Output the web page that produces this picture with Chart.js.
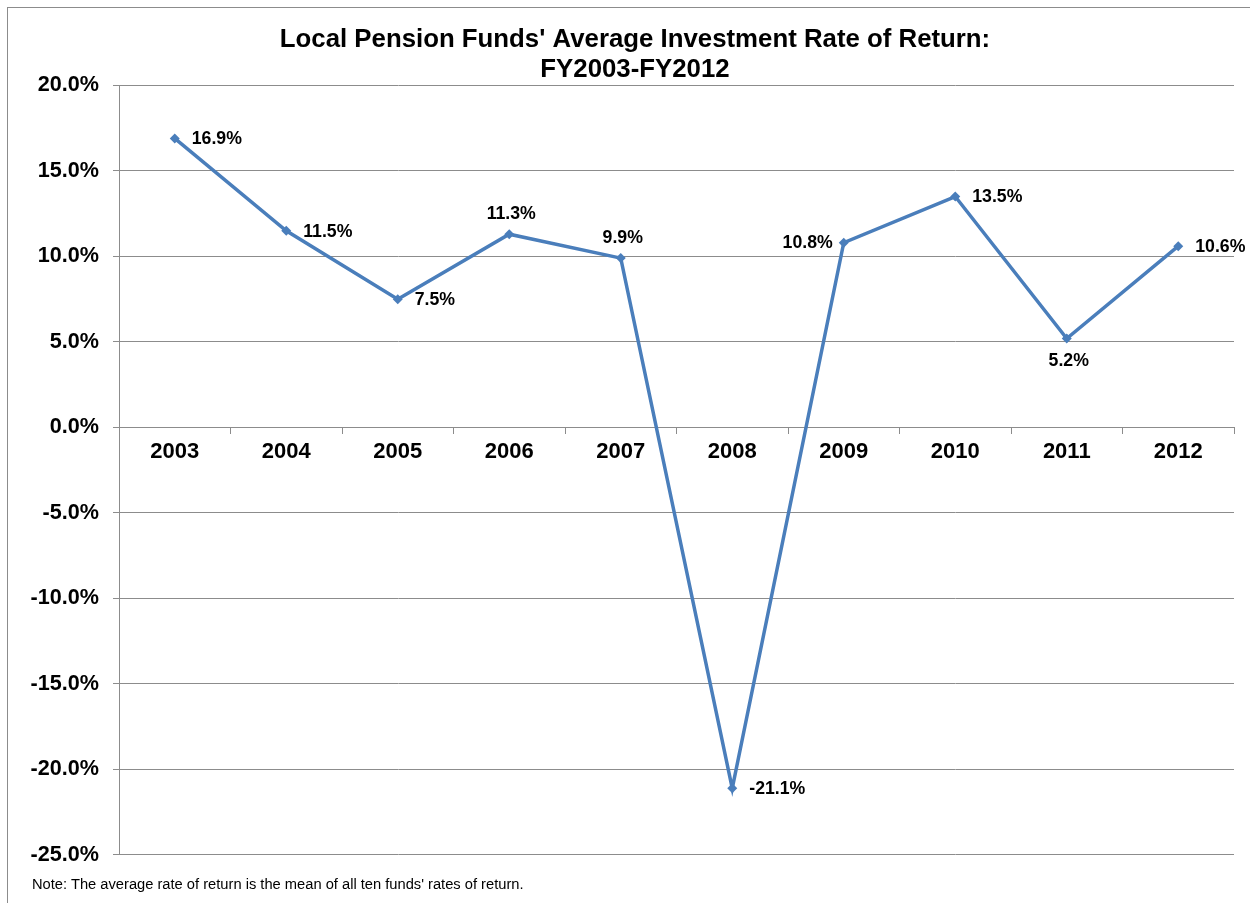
<!DOCTYPE html>
<html>
<head>
<meta charset="utf-8">
<script src="https://cdn.jsdelivr.net/npm/chart.js@4/dist/chart.umd.min.js"></script>
<style>
  body { margin: 0; background: #fff; overflow: hidden; }
  #frame { position: absolute; left: 7px; top: 7px; width: 1300px; height: 950px; border: 1px solid #8c8c8c; }
  #wrap { position: absolute; left: 0; top: 0; width: 1250px; height: 903px; }
  #note { position: absolute; left: 32px; top: 876px; font: 14.7px "Liberation Sans", Arial, sans-serif; color: #000; }
</style>
</head>
<body>
<div id="frame"></div>
<div id="wrap"><canvas id="lineChart" width="1250" height="903"></canvas></div>
<div id="note">Note: The average rate of return is the mean of all ten funds' rates of return.</div>
<script>
// Fiscal years and average returns (%)
const years = ['2003', '2004', '2005', '2006', '2007', '2008', '2009', '2010', '2011', '2012'];
const returns = [16.9, 11.5, 7.5, 11.3, 9.9, -21.1, 10.8, 13.5, 5.2, 10.6];
const yTicks = [-25, -20, -15, -10, -5, 0, 5, 10, 15, 20];

// where each value label sits relative to its point
const labelSide = ['right', 'right', 'right', 'above', 'above', 'right', 'left', 'right', 'below', 'right'];

const FONT = '"Liberation Sans", Arial, sans-serif';
const GRID = '#8c8c8c';

const valueLabels = {
    id: 'valueLabels',
    afterDatasetsDraw(chart) {
        const ctx = chart.ctx;
        const meta = chart.getDatasetMeta(0);
        ctx.save();
        ctx.font = 'bold 17.7px ' + FONT;
        ctx.fillStyle = '#000';
        ctx.textBaseline = 'middle';
        meta.data.forEach((pt, i) => {
            const text = returns[i].toFixed(1) + '%';
            const side = labelSide[i];
            if (side === 'right') {
                ctx.textAlign = 'left';
                ctx.fillText(text, pt.x + 17, pt.y + 1);
            } else if (side === 'left') {
                ctx.textAlign = 'right';
                ctx.fillText(text, pt.x - 11, pt.y);
            } else if (side === 'above') {
                ctx.textAlign = 'center';
                ctx.fillText(text, pt.x + 2, pt.y - 20);
            } else {
                ctx.textAlign = 'center';
                ctx.fillText(text, pt.x + 2, pt.y + 23);
            }
        });
        ctx.restore();
    }
};

const createReturnsChart = () => {
    const ctx = document.getElementById('lineChart').getContext('2d');

    new Chart(ctx, {
        type: 'line',
        data: {
            labels: years,
            datasets: [{
                label: 'Average Rate of Return',
                data: returns,
                borderColor: '#4a7ebb',
                backgroundColor: '#4a7ebb',
                borderWidth: 3.5,
                tension: 0,
                pointStyle: 'rectRot',
                pointRadius: 5,
                pointBorderWidth: 0,
                fill: false
            }]
        },
        options: {
            responsive: false,
            animation: false,
            layout: { padding: { left: 20, right: 0, top: 0, bottom: 48 } },
            plugins: {
                legend: { display: false },
                tooltip: { enabled: false },
                title: {
                    display: true,
                    text: ["Local Pension Funds' Average Investment Rate of Return:", 'FY2003-FY2012'],
                    color: '#000',
                    font: { family: FONT, size: 25.8, weight: 'bold', lineHeight: 1.17 },
                    padding: { top: 25, bottom: 0 }
                }
            },
            scales: {
                x: {
                    position: { y: 0 },
                    offset: true,
                    grid: { offset: true, drawOnChartArea: false, color: GRID, tickLength: 6 },
                    border: { color: GRID },
                    ticks: { color: '#000', font: { family: FONT, size: 22, weight: 'bold' }, padding: 5 }
                },
                y: {
                    min: -25,
                    max: 20,
                    afterBuildTicks: (scale) => { scale.ticks = yTicks.map(v => ({ value: v })); },
                    afterFit: (scale) => { scale.width = 99; },
                    grid: { color: GRID, tickLength: 6 },
                    border: { color: GRID },
                    ticks: {
                        color: '#000',
                        font: { family: FONT, size: 21.6, weight: 'bold' },
                        padding: 14,
                        callback: (v) => v.toFixed(1) + '%'
                    }
                },
                // empty strip on the right so the plot ends where the original does
                gap: {
                    axis: 'y',
                    position: 'right',
                    grid: { display: false },
                    border: { display: false },
                    ticks: { display: false },
                    afterFit: (scale) => { scale.width = 16; }
                }
            }
        },
        plugins: [valueLabels]
    });
};

document.addEventListener('DOMContentLoaded', function() {
    createReturnsChart();
});
</script>
</body>
</html>
